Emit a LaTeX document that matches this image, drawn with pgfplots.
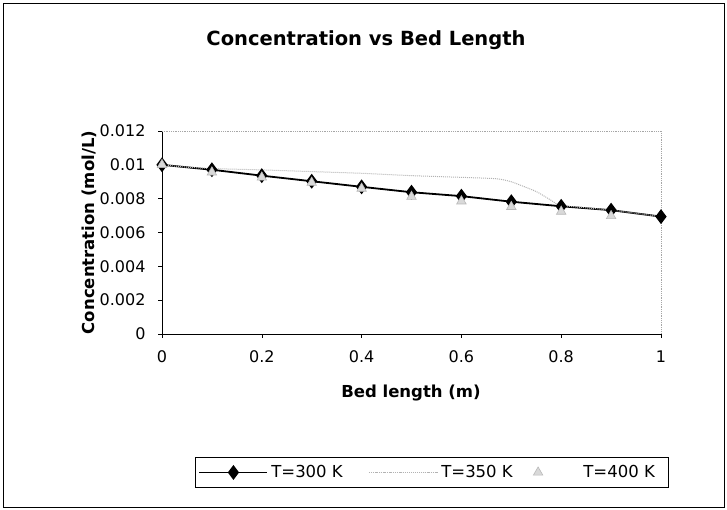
\documentclass[border=0pt]{standalone}
\usepackage{pgfplots}
\pgfplotsset{compat=1.18}
\usepackage{fontspec}
\setmainfont{DejaVu Sans}

\pgfplotstableread{
x      c
0.0    0.01000
0.1    0.00971
0.2    0.00936
0.3    0.00903
0.4    0.00870
0.5    0.00838
0.6    0.00815
0.7    0.00782
0.8    0.00755
0.9    0.00732
1.0    0.00694
}\tthree

\pgfplotstableread{
x      c
0.00   0.01000
0.05   0.00986
0.10   0.00978
0.20   0.00970
0.30   0.00960
0.40   0.00950
0.50   0.00936
0.60   0.00926
0.67   0.00918
0.70   0.00900
0.75   0.00842
0.78   0.00790
0.80   0.00760
0.90   0.00732
1.00   0.00694
}\tthreefifty

\pgfplotstableread{
x      c
0.0    0.01000
0.1    0.00956
0.2    0.00926
0.3    0.00895
0.4    0.00860
0.5    0.00812
0.6    0.00785
0.7    0.00752
0.8    0.00724
0.9    0.00698
}\tfour

\begin{document}
\begin{tikzpicture}
\useasboundingbox (0,0) rectangle (727bp,510bp);
% chart area frame
\draw[black, line width=0.8bp] (3bp,3bp) rectangle (724bp,507bp);
% chart title
\node[font=\fontsize{19.5bp}{22bp}\selectfont\bfseries] at (366bp,470bp) {Concentration vs Bed Length};

\begin{axis}[
  at={(162bp,176bp)}, anchor=south west,
  width=499bp, height=203bp, scale only axis,
  xmin=0, xmax=1, ymin=0, ymax=0.012,
  scaled y ticks=false, scaled x ticks=false,
  axis lines*=left,
  axis line style={-, black, line width=0.8bp},
  xtick={0,0.2,0.4,0.6,0.8,1},
  xticklabels={0,0.2,0.4,0.6,0.8,1},
  ytick={0,0.002,0.004,0.006,0.008,0.01,0.012},
  yticklabels={0,0.002,0.004,0.006,0.008,0.01,0.012},
  tick align=outside, major tick length=4bp,
  tick style={black, line width=0.6bp},
  xticklabel style={font=\fontsize{16bp}{19bp}\selectfont, anchor=center, yshift=-19bp},
  yticklabel style={font=\fontsize{16bp}{19bp}\selectfont, anchor=east, xshift=-9bp},
  xlabel={Bed length (m)},
  every axis x label/.style={font=\fontsize{16.5bp}{19bp}\selectfont\bfseries, at={(axis description cs:0.499,-0.291)}, anchor=center},
  legend columns=3,
  legend image code/.code={\draw[mark repeat=2, mark phase=2, #1] plot coordinates {(0bp,0bp) (34bp,0bp) (68bp,0bp)};},
  legend style={
    at={(axis description cs:0.5405,-0.682)}, anchor=center,
    draw=black, line width=0.6bp,
    font=\fontsize{16.5bp}{19bp}\selectfont,
    inner xsep=3bp, inner ysep=8bp,
    nodes={inner sep=0pt},
  },
  clip=false,
]
% plot area border on the top and right
\draw[gray!70, densely dotted, line width=0.8bp] (rel axis cs:0,1) -- (rel axis cs:1,1) -- (rel axis cs:1,0);
% y axis title
\node[rotate=90, font=\fontsize{16.5bp}{19bp}\selectfont\bfseries] at (axis description cs:-0.146,0.5) {Concentration (mol/L)};

\addplot[black, line width=1.8bp, mark=diamond*, mark size=6bp, mark options={solid, fill=black}]
  table[x=x, y=c] {\tthree};
\addlegendentry{\makebox[100bp][l]{\hspace*{3bp}T=300 K}}

\addplot[gray!60, densely dotted, line width=1bp, smooth, tension=0.3]
  table[x=x, y=c] {\tthreefifty};
\addlegendentry{\makebox[96bp][l]{\hspace*{4bp}T=350 K}}

\addplot[only marks, mark=triangle*, mark size=5.5bp, mark options={fill=gray!30, draw=gray!55, line width=0.6bp}]
  table[x=x, y=c] {\tfour};
\addlegendentry{\makebox[122bp][r]{T=400 K\hspace*{10bp}}}
\end{axis}
\end{tikzpicture}
\end{document}
